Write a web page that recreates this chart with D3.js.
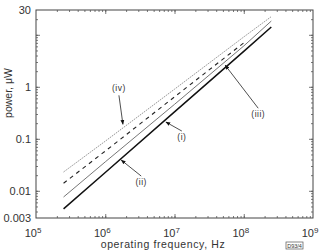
<!DOCTYPE html>
<html>
<head>
<meta charset="utf-8">
<script src="https://cdn.jsdelivr.net/npm/d3@7"></script>
<style>
  body { margin: 0; background: #fff; }
  text { font-family: "Liberation Sans", Arial, sans-serif; fill: #333; }
</style>
</head>
<body>
<script>
const freqs = [2.5e5, 1e6, 1e7, 1e8, 2.5e8];

// power, uW, for each curve
const curveI   = [0.0076, 0.036, 0.46, 6.1, 18.4];
const curveII  = [0.0045, 0.0225, 0.33, 4.8, 14.1];
const curveIII = [0.014, 0.058, 0.64, 7.0];        // dashed, stops at 1e8
const curveIV  = [0.023, 0.09, 0.9, 9.1, 22.4];

const yTickVals = [30, 1, 0.1, 0.01, 0.003];
const yTickText = ['30', '1', '0.1', '0.01', '0.003'];
const xTickExp = [5, 6, 7, 8, 9];

// where each label arrow touches its curve [freq, power]
const annoNames = ['(iv)', '(iii)', '(i)', '(ii)'];
const annoTips = [[1.8e6, 0.19], [5.4e7, 2.6], [7.5e6, 0.21], [1.7e6, 0.039]];

const svg = d3.select('body').append('svg')
  .attr('width', 325).attr('height', 251);

const x = d3.scaleLog().domain([1e5, 1e9]).range([36, 313]);
const y = d3.scaleLog().domain([0.003, 30]).range([218, 10]);

const defs = svg.append('defs');
defs.append('marker')
  .attr('id', 'ah').attr('viewBox', '0 0 10 10')
  .attr('refX', 9).attr('refY', 5)
  .attr('markerWidth', 6).attr('markerHeight', 6)
  .attr('orient', 'auto')
  .append('path').attr('d', 'M0,1 L10,5 L0,9 z').attr('fill', '#111');

// frame
svg.append('rect')
  .attr('x', 36).attr('y', 10).attr('width', 277).attr('height', 208)
  .attr('fill', 'none').attr('stroke', '#444').attr('stroke-width', 1);

// ticks, all inward
const minorX = x.ticks().filter(v => v > 1e5 && v < 1e9);
const minorY = y.ticks().filter(v => v > 0.003 && v < 30);
const majorX = [1e6, 1e7, 1e8];
const majorY = [0.01, 0.1, 1, 10];

function addAxis(axisFn, scale, vals, size, transform) {
  const g = svg.append('g')
    .attr('transform', transform)
    .call(axisFn(scale).tickValues(vals).tickSize(size).tickFormat(''));
  g.select('.domain').remove();
  g.selectAll('line').attr('stroke', '#555').attr('stroke-width', 0.8);
}
addAxis(d3.axisBottom, x, minorX, -2, 'translate(0,218)');
addAxis(d3.axisBottom, x, majorX, -4, 'translate(0,218)');
addAxis(d3.axisTop, x, minorX, -2, 'translate(0,10)');
addAxis(d3.axisTop, x, majorX, -4, 'translate(0,10)');
addAxis(d3.axisLeft, y, minorY, -2, 'translate(36,0)');
addAxis(d3.axisLeft, y, majorY, -4, 'translate(36,0)');
addAxis(d3.axisRight, y, minorY, -2, 'translate(313,0)');
addAxis(d3.axisRight, y, majorY, -4, 'translate(313,0)');

// y labels
svg.selectAll('.ylab').data(yTickVals).enter().append('text')
  .attr('x', 31).attr('y', d => y(d) + 4)
  .attr('text-anchor', 'end').attr('font-size', 11)
  .text((d, i) => yTickText[i]);

// x labels: 10^n
const xl = svg.selectAll('.xlab').data(xTickExp).enter().append('text')
  .attr('x', d => x(Math.pow(10, d)) - 3).attr('y', 237)
  .attr('text-anchor', 'middle').attr('font-size', 11);
xl.append('tspan').text('10');
xl.append('tspan').attr('dy', -4).attr('font-size', 8).text(d => d);

// axis titles
svg.append('text')
  .attr('x', 163).attr('y', 248)
  .attr('text-anchor', 'middle').attr('font-size', 10.5)
  .attr('letter-spacing', 0.6)
  .text('operating  frequency,  Hz');
svg.append('text')
  .attr('transform', 'translate(12,93) rotate(-90)')
  .attr('text-anchor', 'middle').attr('font-size', 10.5)
  .text('power,  \u03bcW');

// small figure code box
svg.append('rect')
  .attr('x', 286).attr('y', 242).attr('width', 17).attr('height', 7)
  .attr('fill', 'none').attr('stroke', '#555').attr('stroke-width', 0.7);
svg.append('text')
  .attr('x', 294.5).attr('y', 248).attr('text-anchor', 'middle')
  .attr('font-size', 5.5).text('D93/4');

// curves
const line = d3.line().x(d => x(d[0])).y(d => y(d[1]));
const series = [
  {vals: curveIV, stroke: '#777', width: 0.8, dash: '1.5,1'},
  {vals: curveIII, stroke: '#222', width: 1.1, dash: '4,4'},
  {vals: curveI, stroke: '#666', width: 0.9, dash: null},
  {vals: curveII, stroke: '#111', width: 1.5, dash: null}
];
series.forEach(s => {
  svg.append('path')
    .datum(s.vals.map((v, i) => [freqs[i], v]))
    .attr('d', line)
    .attr('fill', 'none')
    .attr('stroke', s.stroke)
    .attr('stroke-width', s.width)
    .attr('stroke-dasharray', s.dash);
});

// annotations: label offset from the arrow tip, in px
const offs = [[-4, -33], [33, 52], [16, 18], [20, 25]];
annoNames.forEach((name, i) => {
  const tx = x(annoTips[i][0]), ty = y(annoTips[i][1]);
  const lx = tx + offs[i][0], ly = ty + offs[i][1];
  const sy = offs[i][1] < 0 ? ly + 4 : ly - 9;
  svg.append('line')
    .attr('x1', lx).attr('y1', sy).attr('x2', tx).attr('y2', ty)
    .attr('stroke', '#222').attr('stroke-width', 0.8)
    .attr('marker-end', 'url(#ah)');
  svg.append('text')
    .attr('x', lx).attr('y', ly)
    .attr('text-anchor', 'middle').attr('font-size', 8.5)
    .attr('letter-spacing', 0.5)
    .text(name);
});
</script>
</body>
</html>
